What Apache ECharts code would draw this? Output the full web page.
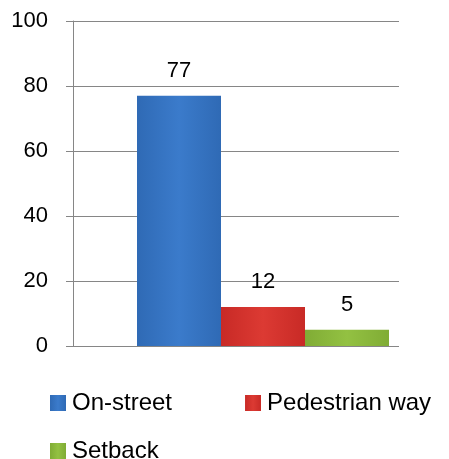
<!DOCTYPE html>
<html><head><meta charset="utf-8">
<script src="https://cdn.jsdelivr.net/npm/echarts@6/dist/echarts.min.js"></script>
<style>html,body{margin:0;padding:0;background:#fff}#c{width:449px;height:459px}</style>
</head><body><div id="c"></div>
<script>
const categories = [''];
const seriesNames = ['On-street', 'Pedestrian way', 'Setback'];
const onStreet = [77];
const pedestrianWay = [12];
const setback = [5];
const yTicks = [0, 20, 40, 60, 80, 100];

const colors = [
  ['#2f6ab5', '#3b7bcb', '#2f6ab5'],
  ['#c82a26', '#dc3a33', '#c82a26'],
  ['#80ac35', '#93c142', '#80ac35']
];
function grad(c) {
  return new echarts.graphic.LinearGradient(0, 0, 1, 0, [
    {offset: 0, color: c[0]}, {offset: 0.5, color: c[1]}, {offset: 1, color: c[2]}
  ]);
}
const font = 'Liberation Sans, Arial, sans-serif';
const values = [onStreet, pedestrianWay, setback];

const chart = echarts.init(document.getElementById('c'), null, {renderer: 'canvas'});
chart.setOption({
  animation: false,
  grid: [
    {left: 73, top: 21, width: 326, height: 325},
    {left: 137, top: 21, width: 252, height: 325}
  ],
  xAxis: [
    {gridIndex: 0, type: 'category', data: categories, show: false},
    {gridIndex: 1, type: 'category', data: categories, show: false}
  ],
  yAxis: [
    {gridIndex: 0, type: 'value', min: yTicks[0], max: yTicks[yTicks.length - 1], interval: 20,
     axisLine: {show: true, lineStyle: {color: '#868686', width: 1}},
     axisTick: {show: true, length: 7, lineStyle: {color: '#868686', width: 1}},
     splitLine: {show: true, lineStyle: {color: '#868686', width: 1}},
     axisLabel: {margin: 25, color: '#000', fontSize: 22, fontFamily: font}},
    {gridIndex: 1, type: 'value', min: 0, max: 100, show: false, splitLine: {show: false}}
  ],
  legend: [
    {data: [seriesNames[0], seriesNames[1]], left: 50, top: 391, itemWidth: 16, itemHeight: 16,
     itemGap: 73, icon: 'rect', textStyle: {fontSize: 24, fontFamily: font, color: '#000', padding: [0,0,0,1]},
     padding: 0},
    {data: [seriesNames[2]], left: 50, top: 439, itemWidth: 16, itemHeight: 16,
     icon: 'rect', textStyle: {fontSize: 24, fontFamily: font, color: '#000', padding: [0,0,0,1]},
     padding: 0}
  ],
  series: seriesNames.map((name, i) => ({
    name: name,
    type: 'bar',
    xAxisIndex: 1,
    yAxisIndex: 1,
    data: values[i],
    barGap: '0%',
    barCategoryGap: '0%',
    itemStyle: {color: grad(colors[i])},
    label: {show: true, position: 'top', distance: 14, fontSize: 22, fontFamily: font, color: '#000'}
  }))
});
</script>
</body></html>
